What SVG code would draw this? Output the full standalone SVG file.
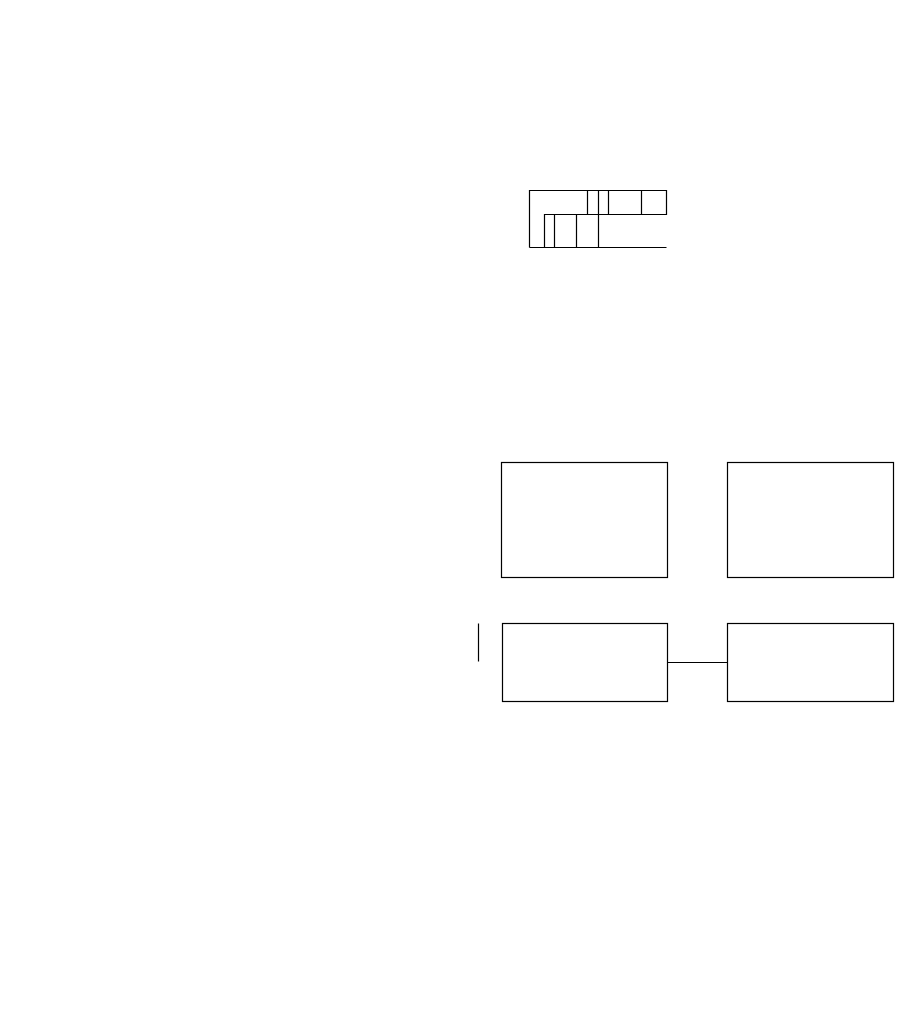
<svg xmlns="http://www.w3.org/2000/svg" width="911" height="1033" viewBox="0 0 911 1033">
<style>
.s{fill:none;stroke:#000;stroke-width:1.2}
</style>
<rect width="911" height="1033" fill="#fff"/>
<g id="record">
<path class="s" d="M529.5 247.5V190.5H666.5V214.5H544.5V247.5M529.5 247.5H666.5"/>
<path class="s" d="M587.5 190.5V214.5M598.5 190.5V247.5M608.5 190.5V214.5M641.5 190.5V214.5M554.5 214.5V247.5M576.5 214.5V247.5"/>
</g>
<g id="node1"><rect class="s" x="501.5" y="462.5" width="166" height="115"/></g>
<g id="node2"><rect class="s" x="727.5" y="462.5" width="166" height="115"/></g>
<g id="node3"><rect class="s" x="502.5" y="623.5" width="165" height="78"/></g>
<g id="node4"><rect class="s" x="727.5" y="623.5" width="166" height="78"/></g>
<g id="connectors">
<path class="s" d="M667.5 662.5H727.5"/>
<path class="s" d="M478.5 623.5V661.5"/>
</g>
</svg>
